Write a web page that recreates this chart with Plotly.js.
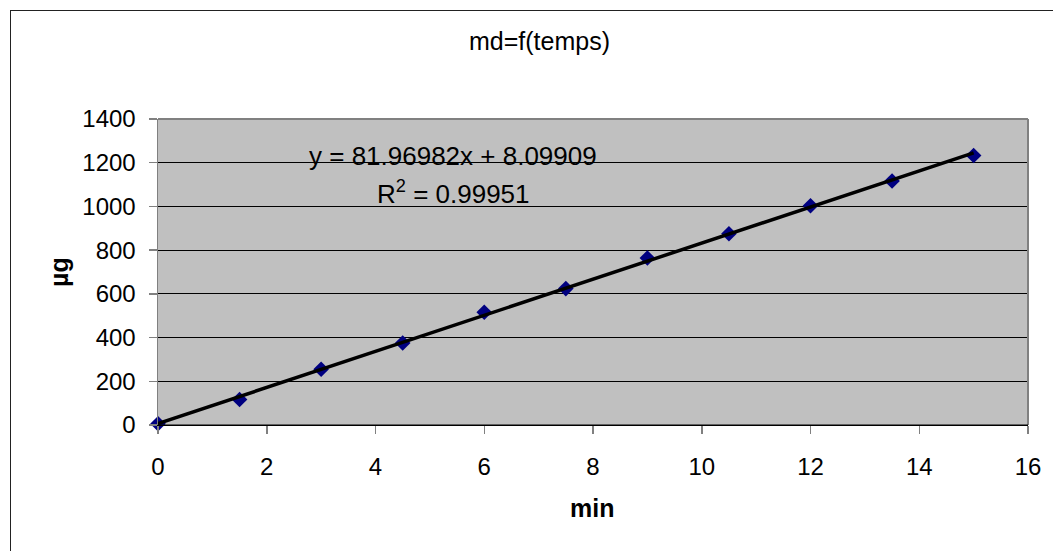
<!DOCTYPE html>
<html>
<head>
<meta charset="utf-8">
<script src="https://cdn.plot.ly/plotly-3.0.1.min.js"></script>
<style>
html,body{margin:0;padding:0;background:#fff;}
#wrap{position:relative;width:1053px;height:551px;overflow:hidden;}
#chart{width:1053px;height:551px;}
#frame{position:absolute;left:10px;top:10px;width:1100px;height:600px;border:1px solid #222;pointer-events:none;box-sizing:border-box;}
</style>
</head>
<body>
<div id="wrap"><div id="chart"></div><div id="frame"></div></div>
<script>
var timeMin = [0, 1.5, 3, 4.5, 6, 7.5, 9, 10.5, 12, 13.5, 15];
var massUg = [6, 117, 255, 375, 516, 624, 764, 875, 1003, 1116, 1233];
var xTicks = [0, 2, 4, 6, 8, 10, 12, 14, 16];
var yTicks = [0, 200, 400, 600, 800, 1000, 1200, 1400];
var titleText = 'md=f(temps)';
var eqLine1 = 'y = 81.96982x + 8.09909';
var eqLine2 = 'R<sup>2</sup> = 0.99951';
var xTitle = 'min';
var yTitle = 'µg';

// least squares trendline from the data
var n = timeMin.length, sx = 0, sy = 0, sxx = 0, sxy = 0;
for (var i = 0; i < n; i++) { sx += timeMin[i]; sy += massUg[i]; sxx += timeMin[i]*timeMin[i]; sxy += timeMin[i]*massUg[i]; }
var slope = (n*sxy - sx*sy) / (n*sxx - sx*sx);
var icpt = (sy - slope*sx) / n;
var trendX = [timeMin[0], timeMin[n-1]];
var trendY = trendX.map(function(v){ return slope*v + icpt; });

var font = 'Liberation Sans, Arial, sans-serif';
var L = 158, R = 25, T = 119, B = 126, W = 1053, H = 551;
var pw = W - L - R, ph = H - T - B;
function px2x(p){ return (p - L) / pw; }
function py2y(p){ return (H - B - p) / ph; }

var data = [
  {x: timeMin, y: massUg, mode: 'markers', type: 'scatter',
   marker: {symbol: 'diamond', size: 12, color: '#000080', line: {width: 0}}, cliponaxis: false},
  {x: trendX, y: trendY, mode: 'lines', type: 'scatter',
   line: {color: '#000000', width: 3.5}, cliponaxis: false}
];
var layout = {
  width: W, height: H,
  margin: {l: L, r: R, t: T, b: B},
  paper_bgcolor: '#ffffff', plot_bgcolor: '#c0c0c0',
  showlegend: false,
  font: {family: font, color: '#000', size: 24},
  xaxis: {range: [0, 16], tickvals: xTicks, ticktext: xTicks.map(String),
          showgrid: false, zeroline: false, showline: true, linecolor: '#000000', linewidth: 1,
          ticks: 'outside', ticklen: 8, tickcolor: '#808080', tickwidth: 1.5,
          tickfont: {family: font, size: 24, color: '#000'}, ticklabelstandoff: 12},
  yaxis: {range: [0, 1400], tickvals: yTicks, ticktext: yTicks.map(String),
          showgrid: true, gridcolor: '#000000', gridwidth: 1, zeroline: false,
          showline: true, linecolor: '#808080', linewidth: 1.5,
          ticks: 'outside', ticklen: 8, tickcolor: '#808080', tickwidth: 1.5,
          tickfont: {family: font, size: 24, color: '#000'}, ticklabelstandoff: 8},
  shapes: [
    {type: 'line', xref: 'paper', yref: 'paper', x0: 0, x1: 1, y0: 1, y1: 1,
     line: {color: '#808080', width: 2}, layer: 'above'},
    {type: 'line', xref: 'paper', yref: 'paper', x0: 1, x1: 1, y0: 0, y1: 1,
     line: {color: '#808080', width: 2}, layer: 'above'},
    {type: 'line', xref: 'paper', yref: 'paper', x0: 0, x1: 1, y0: 0, y1: 0,
     line: {color: '#000000', width: 1}, layer: 'above'}
  ],
  annotations: [
    {text: titleText, xref: 'paper', yref: 'paper', x: px2x(539), y: py2y(41),
     xanchor: 'center', yanchor: 'middle', showarrow: false,
     font: {family: font, size: 25, color: '#000'}},
    {text: eqLine1, xref: 'paper', yref: 'paper', x: px2x(453), y: py2y(156),
     xanchor: 'center', yanchor: 'middle', showarrow: false,
     font: {family: font, size: 26, color: '#000'}},
    {text: eqLine2, xref: 'paper', yref: 'paper', x: px2x(453), y: py2y(192),
     xanchor: 'center', yanchor: 'middle', showarrow: false,
     font: {family: font, size: 26, color: '#000'}},
    {text: '<b>' + xTitle + '</b>', xref: 'paper', yref: 'paper', x: px2x(592), y: py2y(508),
     xanchor: 'center', yanchor: 'middle', showarrow: false,
     font: {family: font, size: 25, color: '#000'}},
    {text: '<b>' + yTitle + '</b>', xref: 'paper', yref: 'paper', x: px2x(59), y: py2y(272),
     xanchor: 'center', yanchor: 'middle', showarrow: false, textangle: -90,
     font: {family: font, size: 25, color: '#000'}}
  ]
};
Plotly.newPlot('chart', data, layout, {displayModeBar: false, staticPlot: true});
</script>
</body>
</html>
